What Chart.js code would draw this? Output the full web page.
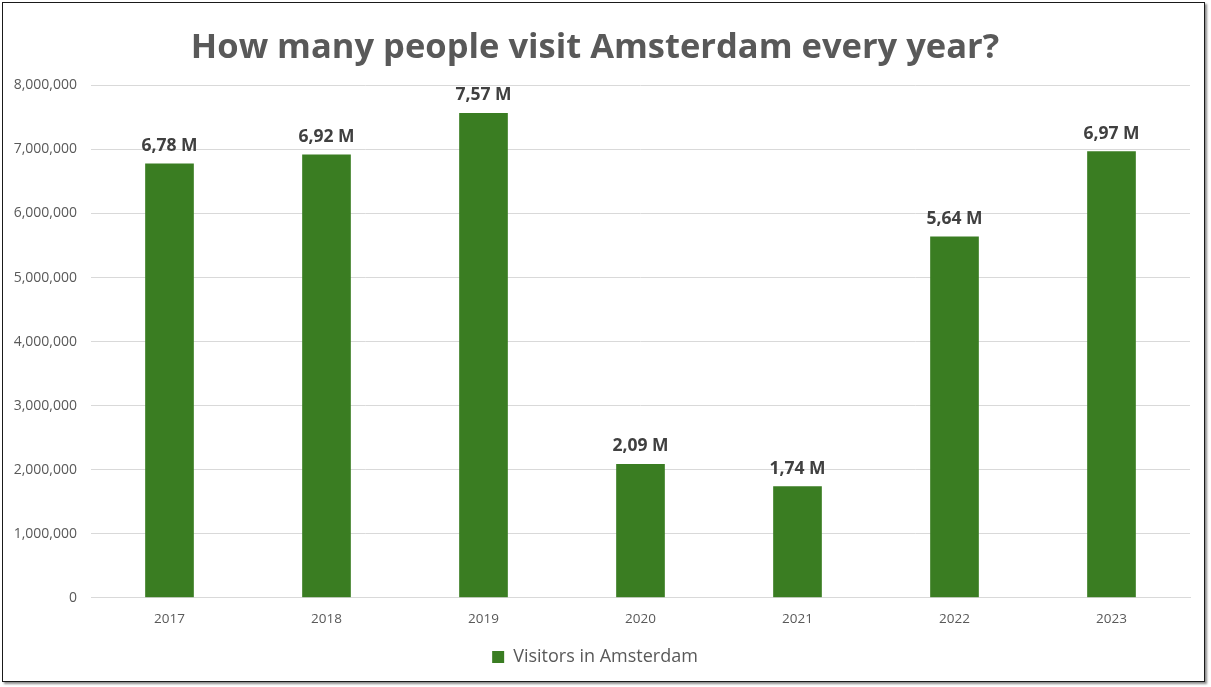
<!DOCTYPE html>
<html>
<head>
<meta charset="utf-8">
<script src="https://cdn.jsdelivr.net/npm/chart.js@4.4.0/dist/chart.umd.min.js"></script>
<style>
  html, body { margin: 0; padding: 0; background: #ffffff; }
  #wrap { position: relative; width: 1211px; height: 687px; overflow: hidden; }
  #frame { position: absolute; left: 2px; top: 2px; width: 1203px; height: 680px; border: 1.5px solid #1a1a1a; box-shadow: 2px 2px 2px rgba(0,0,0,0.45); pointer-events: none; box-sizing: border-box; }
  canvas { position: absolute; left: 0; top: 0; }
</style>
</head>
<body>
<div id="wrap">
  <canvas id="c" width="1211" height="687"></canvas>
  <div id="frame"></div>
</div>
<script>
const categories = ["2017", "2018", "2019", "2020", "2021", "2022", "2023"];
const visitors = [6780000, 6920000, 7570000, 2090000, 1740000, 5640000, 6970000];
const valueLabels = ["6,78 M", "6,92 M", "7,57 M", "2,09 M", "1,74 M", "5,64 M", "6,97 M"];
const seriesName = "Visitors in Amsterdam";
const titleText = "How many people visit Amsterdam every year?";

const FONT = "'Open Sans', 'Noto Sans', sans-serif";

const valueLabelPlugin = {
  id: 'valueLabels',
  afterDatasetsDraw(chart) {
    const ctx = chart.ctx;
    const meta = chart.getDatasetMeta(0);
    ctx.save();
    ctx.font = "bold 17.5px " + FONT;
    ctx.fillStyle = "#404040";
    ctx.textAlign = "center";
    ctx.textBaseline = "bottom";
    meta.data.forEach((bar, i) => {
      ctx.fillText(valueLabels[i], bar.x, bar.y - 9);
    });
    ctx.restore();
  }
};

new Chart(document.getElementById('c'), {
  type: 'bar',
  data: {
    labels: categories,
    datasets: [{
      label: seriesName,
      data: visitors,
      backgroundColor: '#3a7d22',
      borderWidth: 0,
      barPercentage: 0.62,
      categoryPercentage: 0.5
    }]
  },
  options: {
    responsive: false,
    animation: false,
    devicePixelRatio: 1,
    layout: { padding: { left: 0, right: 21, top: 0, bottom: 11 } },
    plugins: {
      title: {
        display: true,
        text: titleText,
        color: '#595959',
        font: { family: FONT, size: 34.5, weight: 'bold', lineHeight: 1.2 },
        padding: { top: 27, bottom: 17 }
      },
      legend: {
        display: true,
        position: 'bottom',
        labels: {
          color: '#595959',
          font: { family: FONT, size: 18 },
          boxWidth: 12,
          boxHeight: 12,
          padding: 8
        }
      },
      tooltip: { enabled: false }
    },
    scales: {
      x: {
        grid: { display: false, drawTicks: false },
        border: { display: true, color: '#d9d9d9', width: 1 },
        ticks: { color: '#595959', font: { family: FONT, size: 13.5 }, padding: 13 }
      },
      y: {
        min: 0,
        max: 8000000,
        grid: { color: '#d9d9d9', drawTicks: false },
        border: { display: false },
        ticks: {
          stepSize: 1000000,
          color: '#595959',
          font: { family: FONT, size: 14 },
          padding: 14,
          callback: (v) => v.toLocaleString('en-US')
        },
        afterFit(scale) { scale.width = 91; }
      }
    }
  },
  plugins: [valueLabelPlugin]
});
</script>
</body>
</html>
